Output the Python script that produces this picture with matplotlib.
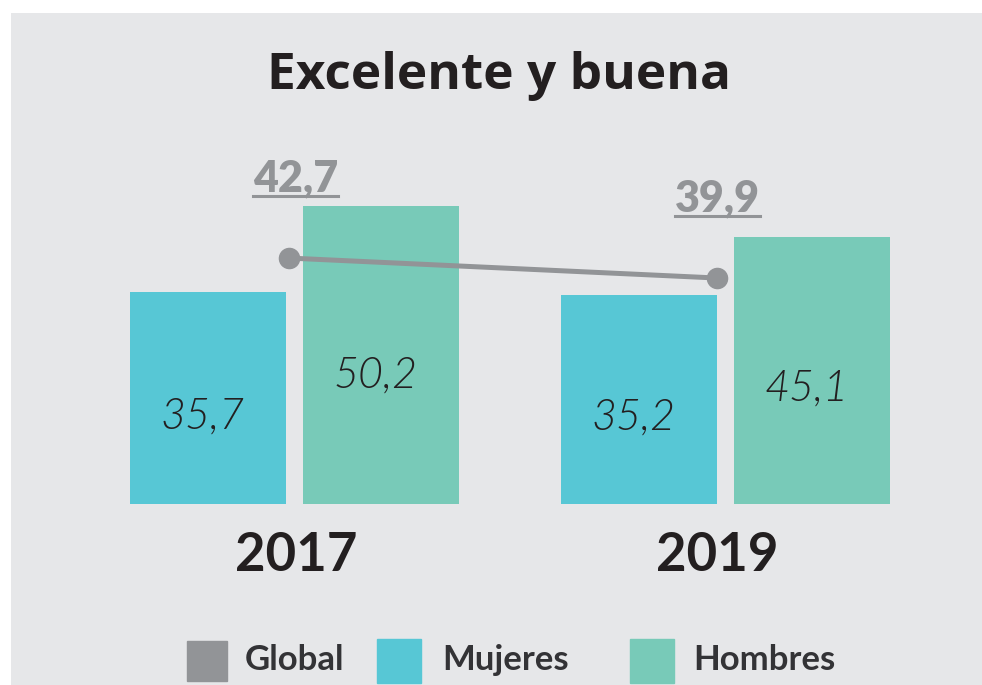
import matplotlib
matplotlib.use("Agg")
import matplotlib.pyplot as plt
from matplotlib.patches import Rectangle
from matplotlib.lines import Line2D

plt.rcParams['font.family'] = ['Lato', 'DejaVu Sans']

# data
years   = ["2017", "2019"]
mujeres = [35.7, 35.2]
hombres = [50.2, 45.1]
glob    = [42.7, 39.9]
legend_labels = ["Global", "Mujeres", "Hombres"]

def fmt(v):
    return ("%.1f" % v).replace(".", ",")

c_gray  = "#929497"
c_cyan  = "#57c7d5"
c_green = "#78cab8"
c_bg    = "#e6e7e9"
c_text  = "#231f20"

W, H = 982, 685
fig = plt.figure(figsize=(W/100, H/100), dpi=100, facecolor="white")
ax = fig.add_axes([11/W, 0, 971/W, 672/H])
ax.set_facecolor(c_bg)
for s in ax.spines.values(): s.set_visible(False)
ax.set_xticks([]); ax.set_yticks([])

grp = [0, 1]
bw  = 0.362
off = 0.2007
ax.bar([g-off for g in grp], mujeres, width=bw, color=c_cyan)
ax.bar([g+off for g in grp], hombres, width=bw, color=c_green)
ax.set_xlim(-0.6578, 1.5951)
ax.set_ylim(-30.52, 82.80)

for g, m, h in zip(grp, mujeres, hombres):
    ax.text(g-off-0.012, m*0.41, fmt(m), ha='center', va='center', fontsize=31,
            style='italic', fontweight=300, color=c_text)
    ax.text(g+off-0.012, h*0.43, fmt(h), ha='center', va='center', fontsize=31,
            style='italic', fontweight=300, color=c_text)

label_x = [0.003, 0.981]
for x, y in zip(label_x, years):
    ax.text(x, -11.3, y, ha='center', va='baseline', fontsize=38,
            fontweight='bold', color=c_text)

# global line on its own scale
ax2 = ax.twinx()
ax2.set_ylim(-17.10, 77.02)
ax2.set_yticks([])
for s in ax2.spines.values(): s.set_visible(False)
pt_x = [-0.013, 0.980]
ax2.plot(pt_x, glob, color=c_gray, lw=3.6, marker='o', ms=14.5,
         solid_capstyle='round', zorder=3)

px_per_x = 431
glabels = []
for x, px, v in zip(label_x, pt_x, glob):
    dx = (x - px) * px_per_x * 72 / 100
    t = ax2.annotate(fmt(v), xy=(px, v), xytext=(dx, 48), textcoords='offset points',
                     ha='center', va='baseline', fontsize=31, fontweight='heavy',
                     color=c_gray)
    glabels.append(t)

fig.text(499/W, 1-89/H, "Excelente y buena", ha='center', va='baseline',
         fontsize=37, fontweight='bold', color=c_text, family='Open Sans')

# legend
leg_colors = [c_gray, c_cyan, c_green]
sq = [(187, 641, 40), (377, 639, 44), (630, 639, 44)]
tx = [245, 442, 693]
for (x, y, s), c, lab, t in zip(sq, leg_colors, legend_labels, tx):
    fig.patches.append(Rectangle((x/W, 1-(y+s)/H), s/W, s/H, color=c,
                                 transform=fig.transFigure, figure=fig))
    fig.text(t/W, 1-670/H, lab, ha='left', va='baseline', fontsize=25,
             fontweight='bold', color="#333336")

# underline the global labels
fig.canvas.draw()
r = fig.canvas.get_renderer()
inv = fig.transFigure.inverted()
for t in glabels:
    bb = t.get_window_extent(r)
    xa, ya = t.xy
    yb = ax2.transData.transform((xa, ya))[1] + 48*100/72 - 4.5
    p0 = inv.transform((bb.x0, yb)); p1 = inv.transform((bb.x1, yb))
    fig.add_artist(Line2D([p0[0], p1[0]], [p0[1], p1[1]], color=c_gray, lw=2.2))

fig.savefig("out.png", dpi=100, facecolor="white")
